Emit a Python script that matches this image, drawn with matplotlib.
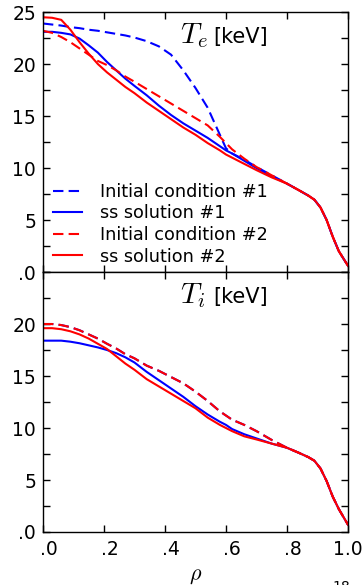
import matplotlib
matplotlib.use("Agg")
import matplotlib.pyplot as plt
from matplotlib.transforms import ScaledTranslation

plt.rcParams['mathtext.fontset'] = 'cm'
plt.rcParams['font.family'] = ['DejaVu Sans']

# ---------------- data ----------------
rho = [0.00, 0.03, 0.06, 0.09, 0.12, 0.15, 0.18, 0.21, 0.24, 0.27, 0.30,
       0.34, 0.38, 0.42, 0.46, 0.50, 0.54, 0.58, 0.60, 0.62, 0.66, 0.70,
       0.75, 0.80, 0.84, 0.87, 0.89, 0.91, 0.93, 0.95, 0.97, 1.00]

te_tail = [7.85, 7.35, 6.95, 6.2, 5.0, 3.4, 2.0, 0.6]   # rho >= 0.84
ti_tail = [7.6, 7.2, 6.85, 6.1, 4.9, 3.4, 2.2, 0.7]

te_init1 = [23.9, 23.8, 23.7, 23.55, 23.45, 23.3, 23.2, 23.05, 22.9, 22.75, 22.55,
            22.2, 21.7, 20.9, 19.4, 17.7, 15.8, 13.2, 11.9, 11.4, 10.8, 10.1,
            9.3, 8.5] + te_tail
te_ss1 = [23.1, 23.1, 23.0, 22.85, 22.45, 21.8, 21.1, 20.2, 19.4, 18.6, 17.9,
          17.0, 16.0, 15.1, 14.3, 13.6, 12.9, 12.1, 11.7, 11.4, 10.7, 10.0,
          9.2, 8.5] + te_tail
te_init2 = [23.2, 23.0, 22.6, 22.1, 21.5, 20.9, 20.3, 19.9, 19.4, 18.8, 18.3,
            17.6, 16.9, 16.2, 15.5, 14.8, 14.1, 13.0, 12.4, 11.8, 10.9, 10.1,
            9.3, 8.5] + te_tail
te_ss2 = [24.5, 24.45, 24.25, 23.3, 22.1, 21.0, 20.0, 19.2, 18.5, 17.8, 17.2,
          16.3, 15.5, 14.7, 13.9, 13.2, 12.4, 11.7, 11.3, 11.0, 10.4, 9.8,
          9.1, 8.5] + te_tail

ti_init1 = [20.0, 20.0, 19.9, 19.7, 19.4, 19.0, 18.6, 18.1, 17.65, 17.1, 16.7,
            16.0, 15.5, 14.9, 14.3, 13.5, 12.6, 11.6, 11.2, 10.8, 10.3, 9.7,
            8.85, 8.1] + ti_tail
ti_ss1 = [18.4, 18.4, 18.4, 18.3, 18.15, 17.95, 17.75, 17.5, 17.2, 16.8, 16.3,
          15.4, 14.6, 13.8, 13.0, 12.1, 11.3, 10.6, 10.3, 9.9, 9.4, 9.0,
          8.5, 8.1] + ti_tail
ti_init2 = list(ti_init1)
ti_ss2 = [19.6, 19.6, 19.5, 19.3, 19.0, 18.6, 18.1, 17.6, 16.9, 16.2, 15.6,
          14.7, 14.0, 13.3, 12.6, 11.9, 11.0, 10.3, 10.0, 9.7, 9.2, 8.9,
          8.5, 8.1] + ti_tail

labels = ['Initial condition #1', 'ss solution #1',
          'Initial condition #2', 'ss solution #2']
xtick_vals = [0.0, 0.2, 0.4, 0.6, 0.8, 1.0]
xtick_labels = ['.0', '.2', '.4', '.6', '.8', '1.0']
ytick_vals = [0, 5, 10, 15, 20, 25]
ytick_labels_top = ['.0', '5', '10', '15', '20', '25']
ytick_labels_bot = ['.0', '5', '10', '15', '20', '']

# ---------------- figure ----------------
fig = plt.figure(figsize=(3.64, 5.85), dpi=100)
ax1 = fig.add_axes([0.118, 0.5350, 0.838, 0.4444])
ax2 = fig.add_axes([0.118, 0.0906, 0.838, 0.4444])

blue = '#0000ff'
red = '#ff0000'
lw = 1.5
dash = (0, (5, 2.5))

def draw(ax, init1, ss1, init2, ss2):
    ax.plot(rho, init1, color=blue, lw=lw, ls=dash, label=labels[0])
    ax.plot(rho, ss1, color=blue, lw=lw, label=labels[1])
    ax.plot(rho, init2, color=red, lw=lw, ls=dash, label=labels[2])
    ax.plot(rho, ss2, color=red, lw=lw, label=labels[3])
    ax.set_xlim(0, 1)
    ax.set_ylim(0, 25)
    ax.set_xticks(xtick_vals)
    ax.set_yticks(ytick_vals)
    ax.set_yticks([2.5, 7.5, 12.5, 17.5, 22.5], minor=True)
    ax.tick_params(which='both', direction='in', top=True, right=True,
                   length=5, width=1, labelsize=13.5, colors='black')
    ax.tick_params(axis='y', pad=5)
    ax.tick_params(axis='x', pad=6)
    for s in ax.spines.values():
        s.set_linewidth(1.0)
        s.set_color('black')

draw(ax1, te_init1, te_ss1, te_init2, te_ss2)
draw(ax2, ti_init1, ti_ss1, ti_init2, ti_ss2)

ax1.set_yticklabels(ytick_labels_top)
ax1.set_xticklabels([])
ax2.set_yticklabels(ytick_labels_bot)
ax2.set_xticklabels(xtick_labels)
off = ScaledTranslation(6 / 100, 0, fig.dpi_scale_trans)
for lab in ax2.get_xticklabels()[:-1]:
    lab.set_transform(lab.get_transform() + off)

ax2.set_xlabel(r'$\rho$', fontsize=16, labelpad=5)

for ax, sub in ((ax1, 'e'), (ax2, 'i')):
    ax.text(0.449, 0.88, r'$T_%s$' % sub, fontsize=21, transform=ax.transAxes,
            ha='left', va='baseline')
    ax.text(0.557, 0.88, '[keV]', fontsize=15, transform=ax.transAxes,
            ha='left', va='baseline')

ax1.legend(loc='lower left', bbox_to_anchor=(0.033, 0.025), frameon=False,
           fontsize=12.7, handlelength=1.65, handletextpad=1.0,
           labelspacing=0.2, borderpad=0, borderaxespad=0)

fig.text(332 / 364, 1 - 580 / 585, '18', fontsize=10, ha='left', va='top')

fig.savefig('out.png', dpi=100)
